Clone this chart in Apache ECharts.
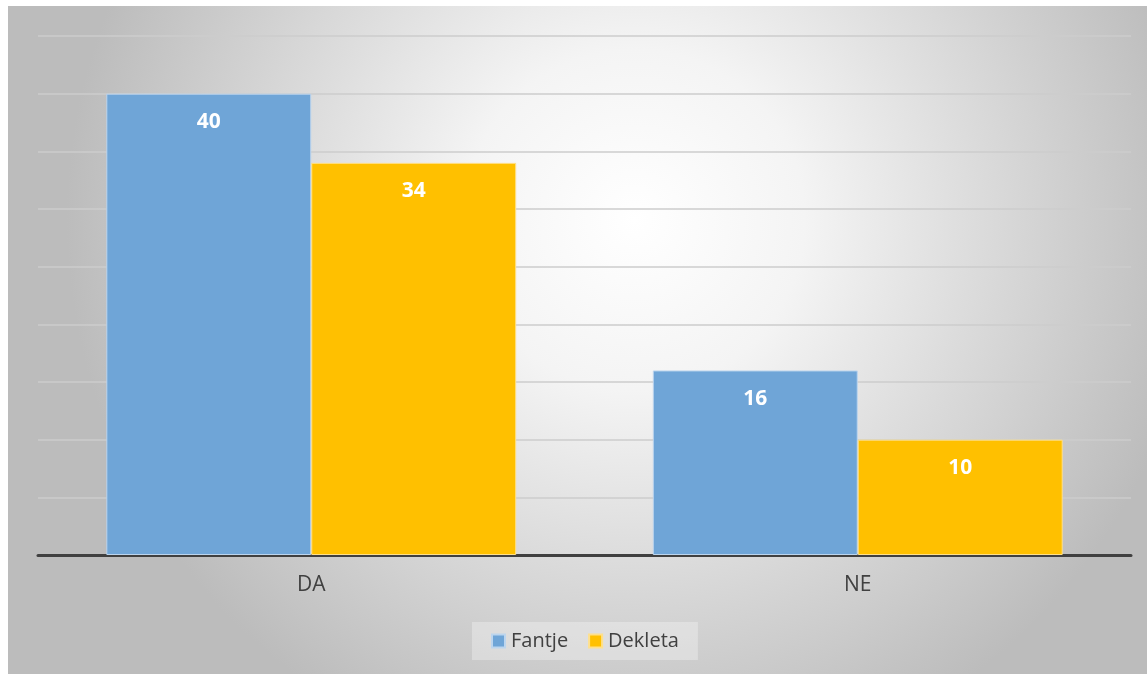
<!DOCTYPE html>
<html>
<head>
<meta charset="utf-8">
<script src="https://cdn.jsdelivr.net/npm/echarts@6/dist/echarts.min.js"></script>
<style>
  html, body { margin: 0; padding: 0; background: #ffffff; }
  #wrap { position: relative; width: 1147px; height: 675px; overflow: hidden; }
  #chart { position: absolute; left: 8px; top: 6px; width: 1139px; height: 668px; }
</style>
</head>
<body>
<div id="wrap"><div id="chart"></div></div>
<script>
// Survey answers split by group
const categories = ['DA', 'NE'];
const seriesNames = ['Fantje', 'Dekleta'];
const fantje = [40, 16];
const dekleta = [34, 10];
const yMin = 0, yMax = 45, yStep = 5;

const FONT = '"Open Sans", "Noto Sans", "DejaVu Sans", sans-serif';
const chart = echarts.init(document.getElementById('chart'), null, { renderer: 'canvas' });

const labelStyle = {
  show: true,
  position: 'insideTop',
  distance: 18,
  color: '#ffffff',
  fontFamily: FONT,
  fontWeight: 'bold',
  fontSize: 21
};

chart.setOption({
  animation: false,
  backgroundColor: {
    type: 'radial', x: 0.55, y: 0.32, r: 0.85,
    colorStops: [
      { offset: 0, color: '#ffffff' },
      { offset: 0.3, color: '#f4f4f4' },
      { offset: 1, color: '#bcbcbc' }
    ]
  },
  grid: { left: 30, right: 16, top: 30, bottom: 119, containLabel: false },
  legend: {
    bottom: 14,
    left: 464,
    itemWidth: 13,
    itemHeight: 13,
    itemGap: 20,
    icon: 'rect',
    padding: [9, 19],
    backgroundColor: 'rgba(255,255,255,0.3)',
    textStyle: { color: '#404040', fontSize: 20, fontFamily: FONT, padding: [0, 0, 0, 1] },
    data: seriesNames
  },
  xAxis: {
    type: 'category',
    data: categories,
    axisLine: { lineStyle: { color: '#404040', width: 3 } },
    axisTick: { show: false },
    axisLabel: { color: '#404040', fontSize: 21, fontFamily: FONT, margin: 20 }
  },
  yAxis: {
    type: 'value',
    min: yMin, max: yMax, interval: yStep,
    axisLine: { show: false },
    axisTick: { show: false },
    axisLabel: { show: false },
    splitLine: { lineStyle: { color: '#cdcdcd', width: 1.5 } }
  },
  series: [
    {
      name: seriesNames[0], type: 'bar', data: fantje,
      barGap: '0%', barCategoryGap: '25%',
      itemStyle: { color: '#6fa5d7', borderColor: '#bcd5ee', borderWidth: 1 },
      label: labelStyle
    },
    {
      name: seriesNames[1], type: 'bar', data: dekleta,
      itemStyle: { color: '#ffc000', borderColor: '#ffe08a', borderWidth: 1 },
      label: labelStyle
    }
  ]
});
</script>
</body>
</html>
